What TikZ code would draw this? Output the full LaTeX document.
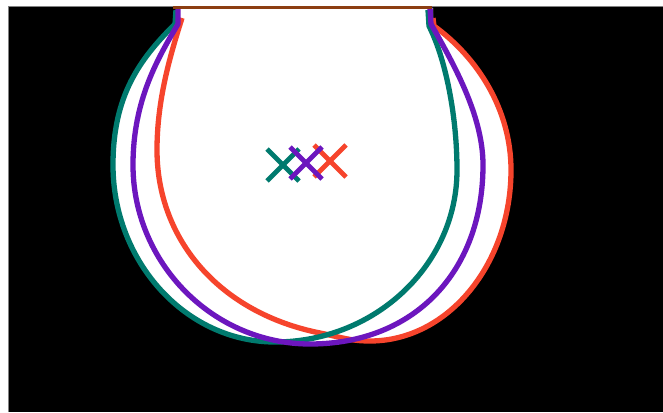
\documentclass[tikz,border=0pt]{standalone}
\usetikzlibrary{calc}
\definecolor{cteal}{RGB}{0,122,110}
\definecolor{cpurple}{RGB}{108,22,190}
\definecolor{cred}{RGB}{246,68,44}
\definecolor{cbrown}{RGB}{140,62,18}
\definecolor{cgray}{RGB}{130,130,130}
\tikzset{
  curve/.style={line width=5.3pt, line join=round},
  xarm/.style={line width=4.8pt}
}
\def\tealpath{(176,10) -- (175,24) .. controls (140,59) and (113,95) .. (113,165)
  .. controls (113,262) and (186,342) .. (275,342)
  .. controls (375,342) and (457,265) .. (457,170)
  .. controls (457,120) and (447,62) .. (429,26) -- (428,10)}
\def\purplepath{(178,8) -- (178,24) .. controls (158,58) and (133,100) .. (133,165)
  .. controls (133,263) and (213,344) .. (310,344)
  .. controls (414,344) and (483,272) .. (483,165)
  .. controls (483,115) and (453,63) .. (431,24) -- (430,8)}
\def\redpath{(182,18) .. controls (170,56) and (157,100) .. (157,150)
  .. controls (157,240) and (220,313) .. (320,333)
  .. controls (340,337) and (350,341) .. (370,341)
  .. controls (448,341) and (511,264) .. (511,170)
  .. controls (511,110) and (478,58) .. (434,26) -- (433,18)}
\begin{document}
\begin{tikzpicture}[x=1pt,y=-1pt]
\useasboundingbox (0,0) rectangle (663,412);
\fill[black] (9,7) rectangle (663,412);
\draw[cgray, line width=1.5pt] (8.5,412) -- (8.5,6.5) -- (663,6.5);
% white fills
\fill[white] \tealpath -- cycle;
\fill[white] \purplepath -- cycle;
\fill[white] \redpath -- (433,8) -- (182,8) -- cycle;
% curves
\draw[cred, curve] \redpath;
\draw[cteal, curve] \tealpath;
\draw[cpurple, curve] \purplepath;
% top brown line
\draw[cbrown, line width=3pt] (173,8) -- (432,8);
% crosses
\coordinate (ct) at (283,165);
\coordinate (cr) at (330,161);
\coordinate (cp) at (306,163);
\foreach \c/\col in {ct/cteal, cr/cred, cp/cpurple}{
  \draw[\col, xarm] ($(\c)+(-16,-16)$) -- ($(\c)+(16,16)$);
  \draw[\col, xarm] ($(\c)+(-16,16)$) -- ($(\c)+(16,-16)$);
}
\end{tikzpicture}
\end{document}
